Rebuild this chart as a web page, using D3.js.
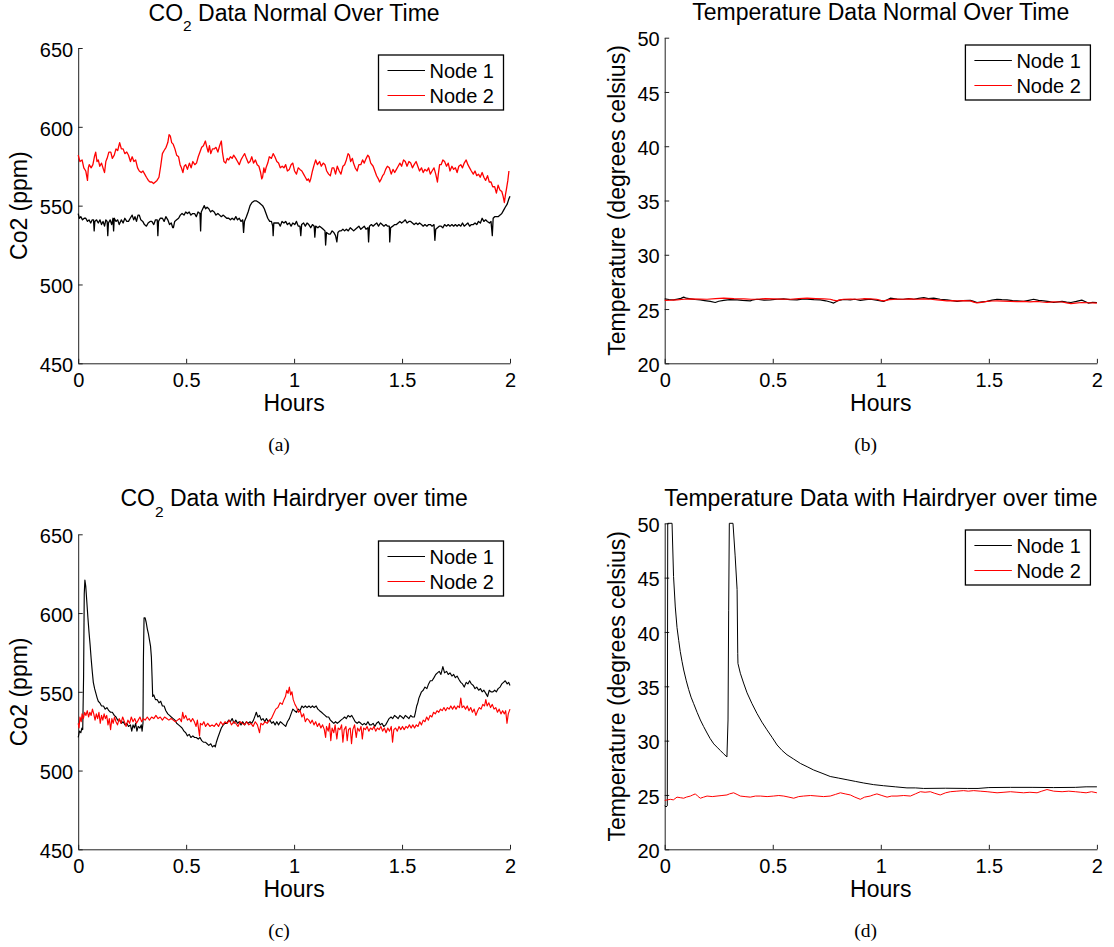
<!DOCTYPE html>
<html>
<head>
<meta charset="utf-8">
<script src="https://cdn.jsdelivr.net/npm/d3@7/dist/d3.min.js"></script>
<style>
  html, body { margin: 0; padding: 0; background: #fff; }
  svg { display: block; }
  text { font-family: "Liberation Sans", Arial, Helvetica, sans-serif; fill: #000; white-space: pre; }
  .cap { font-family: "Liberation Serif", "Times New Roman", serif; }
</style>
</head>
<body>
<svg id="chart" width="1114" height="947"></svg>
<script>
// ---------------- DATA ----------------
const hoursTicks = [0, 0.5, 1, 1.5, 2];
const co2Ticks = [450, 500, 550, 600, 650];
const tempTicks = [20, 25, 30, 35, 40, 45, 50];
const seriesNames = ["Node 1", "Node 2"];

// (a) CO2 normal, [hours, ppm]
const co2NormalNode1 = [[0,545],[0.005,542],[0.012,543],[0.02,541],[0.028,542],[0.035,542],[0.043,540],[0.05,541],[0.058,539],[0.065,541],[0.071,541],[0.074,534],[0.077,540],[0.085,541],[0.093,539],[0.101,541],[0.108,538],[0.115,540],[0.122,537],[0.128,541],[0.134,540],[0.137,531],[0.14,539],[0.148,541],[0.155,538],[0.161,542],[0.164,534],[0.167,542],[0.175,540],[0.183,541],[0.19,538],[0.2,541],[0.208,539],[0.216,542],[0.225,540],[0.233,540],[0.241,542],[0.25,544],[0.257,541],[0.263,543],[0.27,540],[0.277,544],[0.283,544],[0.29,541],[0.299,540],[0.307,538],[0.316,537],[0.324,539],[0.333,540],[0.341,540],[0.35,538],[0.358,541],[0.366,541],[0.369,531],[0.372,540],[0.38,542],[0.39,542],[0.398,540],[0.406,543],[0.415,541],[0.423,538],[0.431,539],[0.438,536],[0.441,536],[0.447,540],[0.456,541],[0.465,542],[0.473,544],[0.481,545],[0.49,544],[0.498,546],[0.506,545],[0.514,546],[0.522,544],[0.53,545],[0.539,545],[0.547,543],[0.555,546],[0.564,545],[0.567,534],[0.57,546],[0.577,548],[0.584,550],[0.59,548],[0.597,549],[0.605,548],[0.613,546],[0.621,547],[0.63,546],[0.638,544],[0.647,545],[0.655,544],[0.663,543],[0.672,544],[0.68,543],[0.688,542],[0.697,542],[0.705,541],[0.713,542],[0.722,541],[0.73,543],[0.738,541],[0.746,542],[0.754,540],[0.762,541],[0.766,533],[0.77,540],[0.779,543],[0.787,546],[0.796,550],[0.805,552],[0.815,553],[0.826,553],[0.837,552],[0.845,551],[0.854,550],[0.862,548],[0.87,545],[0.878,542],[0.887,540],[0.895,540],[0.901,537],[0.903,531],[0.906,539],[0.915,539],[0.928,539],[0.936,537],[0.944,540],[0.953,539],[0.961,540],[0.969,538],[0.978,539],[0.986,537],[0.994,539],[1.003,538],[1.011,540],[1.019,537],[1.027,537],[1.031,531],[1.035,538],[1.044,539],[1.052,537],[1.06,539],[1.068,538],[1.077,536],[1.085,538],[1.093,537],[1.096,530],[1.1,537],[1.11,536],[1.118,537],[1.127,536],[1.135,535],[1.143,534],[1.146,525],[1.15,533],[1.16,532],[1.168,532],[1.176,534],[1.184,533],[1.192,531],[1.198,527],[1.203,533],[1.21,534],[1.218,534],[1.226,535],[1.234,534],[1.242,535],[1.251,534],[1.26,536],[1.268,535],[1.276,534],[1.284,535],[1.292,536],[1.3,537],[1.309,535],[1.317,536],[1.325,537],[1.333,535],[1.342,536],[1.345,527],[1.349,537],[1.358,538],[1.366,537],[1.374,538],[1.383,539],[1.391,537],[1.4,539],[1.408,538],[1.416,537],[1.425,538],[1.433,537],[1.441,537],[1.443,527],[1.447,536],[1.457,537],[1.466,538],[1.474,538],[1.482,539],[1.49,540],[1.498,539],[1.507,540],[1.515,541],[1.523,539],[1.532,540],[1.54,540],[1.548,539],[1.556,538],[1.565,539],[1.573,538],[1.581,539],[1.59,538],[1.598,537],[1.606,538],[1.615,537],[1.623,538],[1.631,538],[1.639,537],[1.648,538],[1.652,528],[1.656,535],[1.664,536],[1.672,537],[1.681,537],[1.689,536],[1.697,538],[1.706,537],[1.714,538],[1.722,537],[1.731,538],[1.739,537],[1.747,538],[1.755,537],[1.763,538],[1.772,537],[1.78,539],[1.788,537],[1.797,538],[1.805,539],[1.813,537],[1.821,538],[1.83,538],[1.838,539],[1.846,538],[1.854,540],[1.863,539],[1.871,542],[1.879,540],[1.887,541],[1.895,540],[1.905,539],[1.912,540],[1.918,531],[1.922,542],[1.929,543],[1.937,543],[1.945,543],[1.954,544],[1.962,545],[1.97,547],[1.978,549],[1.987,551],[1.994,554],[2,556]];
const co2NormalNode2 = [[0,582],[0.008,578],[0.018,579],[0.026,574],[0.035,572],[0.043,566],[0.047,574],[0.051,576],[0.06,574],[0.068,576],[0.075,581],[0.081,584],[0.087,578],[0.093,579],[0.1,575],[0.108,577],[0.117,573],[0.122,571],[0.128,578],[0.134,580],[0.142,584],[0.151,584],[0.158,580],[0.167,582],[0.175,586],[0.183,585],[0.192,590],[0.2,586],[0.208,586],[0.216,583],[0.225,584],[0.233,582],[0.242,578],[0.25,581],[0.258,578],[0.266,579],[0.275,574],[0.283,572],[0.292,571],[0.3,572],[0.308,570],[0.316,568],[0.325,566],[0.333,565],[0.341,565],[0.349,564],[0.357,565],[0.365,566],[0.374,568],[0.382,575],[0.39,583],[0.398,585],[0.407,587],[0.415,590],[0.421,595],[0.427,594],[0.433,590],[0.44,589],[0.448,586],[0.456,582],[0.465,581],[0.472,576],[0.478,574],[0.485,571],[0.491,575],[0.498,576],[0.506,573],[0.515,577],[0.523,574],[0.531,578],[0.54,576],[0.548,577],[0.556,581],[0.564,584],[0.572,587],[0.58,588],[0.589,591],[0.596,587],[0.602,584],[0.608,588],[0.614,583],[0.622,586],[0.63,586],[0.638,587],[0.647,584],[0.655,588],[0.663,591],[0.668,584],[0.675,578],[0.683,577],[0.69,580],[0.697,579],[0.705,581],[0.713,580],[0.72,582],[0.73,580],[0.738,578],[0.746,576],[0.754,579],[0.762,581],[0.771,583],[0.779,580],[0.788,577],[0.796,578],[0.804,581],[0.812,577],[0.821,579],[0.829,576],[0.837,575],[0.845,571],[0.85,567],[0.854,568],[0.86,574],[0.865,571],[0.87,574],[0.878,577],[0.885,581],[0.895,580],[0.903,583],[0.911,581],[0.92,578],[0.928,577],[0.936,574],[0.945,575],[0.953,574],[0.961,576],[0.969,572],[0.978,573],[0.986,576],[0.994,577],[1.002,572],[1.011,570],[1.019,574],[1.027,573],[1.036,572],[1.044,570],[1.052,568],[1.06,566],[1.066,567],[1.072,565],[1.077,567],[1.085,572],[1.093,576],[1.1,579],[1.108,576],[1.118,578],[1.126,575],[1.135,577],[1.143,576],[1.151,572],[1.16,570],[1.168,569],[1.176,574],[1.184,574],[1.192,570],[1.2,575],[1.209,572],[1.217,570],[1.226,575],[1.234,576],[1.242,579],[1.25,583],[1.256,582],[1.262,578],[1.27,580],[1.275,577],[1.283,574],[1.292,572],[1.3,576],[1.309,576],[1.317,579],[1.325,577],[1.334,580],[1.341,582],[1.347,581],[1.355,577],[1.366,575],[1.374,572],[1.382,569],[1.39,567],[1.396,565],[1.404,567],[1.41,569],[1.416,570],[1.424,573],[1.432,575],[1.441,574],[1.45,570],[1.458,573],[1.466,571],[1.474,573],[1.482,575],[1.49,577],[1.498,575],[1.507,579],[1.515,578],[1.523,575],[1.532,578],[1.54,577],[1.548,574],[1.556,576],[1.565,578],[1.573,575],[1.581,572],[1.59,574],[1.598,571],[1.606,573],[1.615,572],[1.623,574],[1.631,570],[1.639,572],[1.648,574],[1.656,570],[1.664,565],[1.668,570],[1.674,576],[1.681,576],[1.689,579],[1.697,578],[1.706,575],[1.714,577],[1.722,572],[1.731,575],[1.739,573],[1.747,574],[1.755,571],[1.763,575],[1.772,576],[1.78,574],[1.788,577],[1.797,579],[1.805,576],[1.813,574],[1.821,572],[1.83,570],[1.838,572],[1.846,569],[1.854,570],[1.862,568],[1.871,571],[1.879,568],[1.887,566],[1.896,569],[1.904,565],[1.912,565],[1.92,562],[1.929,562],[1.937,558],[1.945,563],[1.953,560],[1.962,559],[1.968,556],[1.974,552],[1.979,557],[1.983,560],[1.99,566],[1.995,572]];

// (b) Temperature normal, [hours, degC]
const tempNormalNode1 = [[0,25.94],[0.02,25.88],[0.041,25.85],[0.06,25.92],[0.075,25.98],[0.088,26.1],[0.1,26.0],[0.119,25.94],[0.14,25.88],[0.165,25.85],[0.185,25.78],[0.211,25.7],[0.234,25.6],[0.25,25.72],[0.273,25.8],[0.3,25.86],[0.335,25.85],[0.36,25.8],[0.396,25.75],[0.41,25.85],[0.427,25.9],[0.46,25.82],[0.489,25.85],[0.52,25.9],[0.55,25.94],[0.58,25.86],[0.612,25.85],[0.635,25.92],[0.659,25.9],[0.69,25.86],[0.72,25.85],[0.745,25.76],[0.766,25.65],[0.782,25.55],[0.795,25.7],[0.805,25.8],[0.83,25.88],[0.859,25.85],[0.88,25.9],[0.905,25.8],[0.93,25.86],[0.952,25.9],[0.98,25.82],[1.013,25.7],[1.03,25.85],[1.044,26.0],[1.075,25.92],[1.106,25.9],[1.13,25.96],[1.152,25.9],[1.175,25.98],[1.199,26.05],[1.22,25.96],[1.245,26.0],[1.275,25.9],[1.306,25.85],[1.33,25.78],[1.353,25.7],[1.38,25.78],[1.414,25.8],[1.43,25.7],[1.445,25.6],[1.47,25.66],[1.491,25.7],[1.515,25.82],[1.538,25.9],[1.56,25.86],[1.584,25.85],[1.61,25.78],[1.63,25.75],[1.661,25.7],[1.685,25.8],[1.707,25.9],[1.73,25.8],[1.754,25.75],[1.78,25.68],[1.8,25.6],[1.82,25.66],[1.839,25.7],[1.86,25.64],[1.88,25.6],[1.905,25.7],[1.93,25.82],[1.945,25.7],[1.96,25.55],[1.98,25.62],[2,25.6]];
const tempNormalNode2 = [[0,25.8],[0.03,25.82],[0.057,25.85],[0.09,25.9],[0.119,25.94],[0.16,25.92],[0.196,25.9],[0.235,25.96],[0.273,26.0],[0.32,25.95],[0.366,25.94],[0.4,25.9],[0.427,25.9],[0.465,25.96],[0.504,25.94],[0.54,25.92],[0.582,25.9],[0.62,25.95],[0.659,26.0],[0.7,25.96],[0.736,25.94],[0.766,25.9],[0.78,25.82],[0.797,25.75],[0.81,25.84],[0.828,25.9],[0.86,25.92],[0.89,25.9],[0.92,25.95],[0.952,25.94],[0.98,25.9],[1.0,25.8],[1.013,25.75],[1.04,25.86],[1.075,25.92],[1.1,25.9],[1.136,25.94],[1.17,25.9],[1.199,25.94],[1.23,25.9],[1.26,25.85],[1.285,25.8],[1.306,25.75],[1.33,25.78],[1.353,25.75],[1.385,25.78],[1.414,25.75],[1.43,25.64],[1.445,25.56],[1.465,25.62],[1.491,25.7],[1.515,25.74],[1.538,25.75],[1.57,25.72],[1.6,25.7],[1.63,25.68],[1.661,25.7],[1.69,25.66],[1.723,25.7],[1.745,25.65],[1.769,25.62],[1.8,25.66],[1.839,25.65],[1.86,25.56],[1.88,25.5],[1.9,25.54],[1.93,25.6],[1.96,25.58],[2,25.55]];

// (c) CO2 with hairdryer, [hours, ppm]
const co2DryerNode1 = [[0,521],[0.006,525],[0.012,524],[0.017,527],[0.021,526],[0.025,560],[0.028,612],[0.031,621],[0.035,617],[0.04,607],[0.045,597],[0.05,588],[0.055,580],[0.06,571],[0.065,563],[0.07,556],[0.076,552],[0.082,549],[0.088,546],[0.093,544],[0.1,543],[0.108,541],[0.117,541],[0.125,539],[0.133,540],[0.142,538],[0.15,537],[0.158,537],[0.167,535],[0.175,534],[0.183,532],[0.192,532],[0.2,530],[0.208,531],[0.217,529],[0.225,530],[0.233,528],[0.242,529],[0.248,525],[0.254,529],[0.26,527],[0.266,530],[0.272,525],[0.278,528],[0.286,527],[0.292,529],[0.296,525],[0.3,530],[0.302,570],[0.305,597],[0.31,597],[0.315,594],[0.32,590],[0.325,587],[0.33,583],[0.335,579],[0.339,572],[0.342,560],[0.345,547],[0.35,548],[0.358,545],[0.366,545],[0.374,543],[0.382,544],[0.39,541],[0.398,541],[0.406,538],[0.415,536],[0.423,535],[0.431,534],[0.44,533],[0.448,532],[0.456,530],[0.465,529],[0.473,528],[0.481,527],[0.49,525],[0.498,524],[0.506,522],[0.514,523],[0.522,521],[0.531,522],[0.539,521],[0.547,521],[0.556,520],[0.564,521],[0.572,519],[0.58,518],[0.589,518],[0.597,517],[0.605,516],[0.614,517],[0.622,515],[0.63,516],[0.635,515],[0.64,518],[0.647,521],[0.655,524],[0.663,527],[0.672,529],[0.68,530],[0.688,530],[0.697,532],[0.705,531],[0.713,533],[0.722,530],[0.73,532],[0.738,530],[0.746,531],[0.754,529],[0.762,531],[0.771,529],[0.779,531],[0.787,530],[0.796,531],[0.804,530],[0.812,532],[0.82,535],[0.825,537],[0.832,534],[0.84,535],[0.848,532],[0.856,533],[0.864,531],[0.872,533],[0.88,531],[0.888,532],[0.896,530],[0.904,531],[0.912,529],[0.92,531],[0.928,529],[0.936,531],[0.945,530],[0.953,529],[0.961,528],[0.969,531],[0.978,533],[0.986,536],[0.994,539],[1.002,538],[1.011,537],[1.019,539],[1.027,538],[1.036,541],[1.044,540],[1.052,541],[1.06,540],[1.069,541],[1.077,540],[1.085,541],[1.093,540],[1.102,541],[1.11,539],[1.118,538],[1.127,537],[1.135,536],[1.143,535],[1.151,534],[1.16,534],[1.168,532],[1.176,531],[1.184,530],[1.192,531],[1.2,530],[1.209,531],[1.217,532],[1.226,533],[1.234,534],[1.242,533],[1.25,535],[1.259,534],[1.267,535],[1.275,533],[1.283,531],[1.292,530],[1.3,531],[1.309,530],[1.317,529],[1.325,530],[1.333,529],[1.342,531],[1.35,529],[1.358,529],[1.366,530],[1.374,528],[1.382,530],[1.391,531],[1.399,529],[1.407,530],[1.415,528],[1.424,529],[1.432,531],[1.44,533],[1.449,534],[1.457,533],[1.465,535],[1.474,534],[1.482,533],[1.49,535],[1.499,534],[1.507,533],[1.515,535],[1.524,534],[1.532,533],[1.54,535],[1.548,534],[1.557,534],[1.562,537],[1.568,541],[1.573,543],[1.578,546],[1.584,548],[1.59,550],[1.598,551],[1.606,553],[1.615,552],[1.623,555],[1.631,557],[1.639,557],[1.648,559],[1.656,561],[1.664,562],[1.672,563],[1.68,561],[1.689,566],[1.697,562],[1.706,563],[1.714,561],[1.722,562],[1.731,560],[1.739,561],[1.747,559],[1.755,560],[1.763,558],[1.772,556],[1.78,555],[1.788,553],[1.797,556],[1.805,555],[1.813,557],[1.821,555],[1.83,554],[1.838,552],[1.846,553],[1.855,551],[1.863,552],[1.871,550],[1.879,551],[1.888,549],[1.896,547],[1.904,551],[1.912,550],[1.921,550],[1.929,551],[1.937,550],[1.945,552],[1.954,553],[1.962,555],[1.97,556],[1.978,557],[1.987,555],[1.994,556],[2,554]];
const co2DryerNode2 = [[0,530],[0.004,527],[0.008,534],[0.014,531],[0.018,536],[0.024,533],[0.03,537],[0.036,535],[0.042,538],[0.048,534],[0.054,537],[0.06,535],[0.066,539],[0.072,536],[0.078,532],[0.084,536],[0.09,533],[0.096,537],[0.102,530],[0.108,535],[0.114,532],[0.12,536],[0.126,533],[0.132,535],[0.138,529],[0.144,533],[0.15,526],[0.156,533],[0.162,530],[0.168,534],[0.175,531],[0.182,529],[0.19,533],[0.198,530],[0.206,534],[0.214,531],[0.222,528],[0.23,532],[0.238,530],[0.246,534],[0.254,531],[0.262,533],[0.27,530],[0.278,532],[0.286,534],[0.294,531],[0.302,533],[0.31,532],[0.32,534],[0.33,532],[0.34,534],[0.35,533],[0.36,535],[0.37,533],[0.38,534],[0.39,532],[0.4,534],[0.41,533],[0.42,532],[0.43,533],[0.44,532],[0.45,531],[0.46,532],[0.47,533],[0.478,531],[0.484,537],[0.49,533],[0.498,535],[0.506,532],[0.514,533],[0.522,531],[0.53,533],[0.538,531],[0.546,528],[0.552,532],[0.558,526],[0.562,522],[0.566,530],[0.574,529],[0.582,531],[0.59,528],[0.6,530],[0.61,528],[0.62,529],[0.63,528],[0.64,530],[0.65,528],[0.66,531],[0.67,529],[0.68,531],[0.69,530],[0.7,532],[0.71,529],[0.72,531],[0.73,530],[0.74,528],[0.75,531],[0.76,530],[0.77,529],[0.78,531],[0.79,529],[0.8,530],[0.81,528],[0.82,531],[0.83,529],[0.84,524],[0.846,530],[0.855,529],[0.865,531],[0.875,530],[0.885,532],[0.895,533],[0.905,536],[0.915,539],[0.925,540],[0.935,543],[0.945,542],[0.953,545],[0.96,547],[0.966,551],[0.972,549],[0.978,553],[0.984,548],[0.99,550],[0.996,545],[1.004,542],[1.012,540],[1.02,537],[1.028,538],[1.036,534],[1.044,536],[1.052,531],[1.06,533],[1.068,532],[1.076,530],[1.084,532],[1.092,529],[1.1,531],[1.108,528],[1.116,530],[1.124,527],[1.132,529],[1.14,526],[1.146,521],[1.15,528],[1.158,525],[1.164,530],[1.17,519],[1.176,527],[1.184,524],[1.19,529],[1.198,520],[1.204,527],[1.212,526],[1.22,529],[1.226,518],[1.232,526],[1.24,528],[1.246,519],[1.252,526],[1.26,527],[1.266,517],[1.272,526],[1.28,529],[1.288,521],[1.294,527],[1.302,525],[1.31,528],[1.316,520],[1.322,527],[1.33,526],[1.338,528],[1.346,525],[1.354,527],[1.362,526],[1.37,528],[1.378,525],[1.386,527],[1.394,526],[1.402,528],[1.41,525],[1.418,527],[1.426,524],[1.434,527],[1.442,525],[1.45,528],[1.456,518],[1.462,526],[1.47,527],[1.478,525],[1.486,528],[1.494,526],[1.502,528],[1.51,526],[1.518,528],[1.526,527],[1.534,529],[1.542,527],[1.55,529],[1.558,527],[1.566,529],[1.574,528],[1.582,531],[1.59,529],[1.598,532],[1.606,531],[1.614,534],[1.622,532],[1.63,535],[1.638,534],[1.646,537],[1.654,536],[1.662,538],[1.67,537],[1.678,539],[1.686,538],[1.694,540],[1.702,538],[1.71,540],[1.718,539],[1.726,541],[1.734,539],[1.742,541],[1.75,539],[1.758,541],[1.766,540],[1.772,546],[1.778,540],[1.786,541],[1.794,539],[1.802,541],[1.81,538],[1.818,540],[1.826,537],[1.834,539],[1.842,535],[1.85,538],[1.858,540],[1.866,539],[1.874,542],[1.882,541],[1.888,545],[1.894,541],[1.902,543],[1.91,540],[1.918,542],[1.926,539],[1.934,540],[1.942,537],[1.95,539],[1.958,536],[1.966,538],[1.974,536],[1.98,538],[1.986,530],[1.992,536],[2,539]];

// (d) Temperature with hairdryer, [hours, degC]
const tempDryerNode1 = [[0,24.0],[0.006,23.9],[0.012,24.0],[0.014,50],[0.02,50],[0.034,50],[0.041,45.1],[0.049,42.3],[0.057,40.4],[0.065,39.2],[0.072,38.2],[0.08,37.3],[0.088,36.5],[0.1,35.5],[0.111,34.7],[0.122,34.0],[0.134,33.4],[0.15,32.6],[0.165,31.9],[0.18,31.3],[0.196,30.7],[0.21,30.2],[0.227,29.7],[0.242,29.4],[0.257,29.1],[0.272,28.8],[0.288,28.5],[0.293,31.9],[0.296,42],[0.299,50],[0.316,50],[0.326,47],[0.335,43.9],[0.338,38],[0.339,37.1],[0.35,36.2],[0.365,35.3],[0.381,34.4],[0.404,33.4],[0.427,32.5],[0.45,31.7],[0.473,31.0],[0.497,30.3],[0.52,29.6],[0.543,29.1],[0.566,28.7],[0.597,28.3],[0.628,27.9],[0.659,27.6],[0.689,27.3],[0.728,27.0],[0.766,26.7],[0.805,26.55],[0.844,26.4],[0.882,26.25],[0.921,26.1],[0.967,25.95],[1.013,25.85],[1.067,25.75],[1.121,25.65],[1.16,25.65],[1.198,25.6],[1.3,25.62],[1.4,25.6],[1.45,25.6],[1.5,25.68],[1.6,25.7],[1.7,25.7],[1.8,25.68],[1.9,25.7],[1.95,25.75],[2.0,25.75]];
const tempDryerNode2 = [[0,24.5],[0.013,24.55],[0.026,24.6],[0.04,24.55],[0.057,24.8],[0.072,24.75],[0.088,24.7],[0.1,24.8],[0.119,24.9],[0.13,25.0],[0.142,25.1],[0.152,24.9],[0.165,24.7],[0.18,24.8],[0.196,24.9],[0.22,24.85],[0.242,24.9],[0.265,24.95],[0.288,25.0],[0.3,25.1],[0.319,25.2],[0.335,25.05],[0.35,24.9],[0.372,24.85],[0.396,24.8],[0.42,24.9],[0.443,24.9],[0.474,24.85],[0.504,24.9],[0.528,24.95],[0.551,24.9],[0.575,24.8],[0.597,24.7],[0.62,24.85],[0.643,24.9],[0.675,24.95],[0.705,24.9],[0.735,24.85],[0.766,24.9],[0.79,25.05],[0.813,25.2],[0.835,25.1],[0.859,25.0],[0.88,24.8],[0.905,24.6],[0.925,24.8],[0.951,24.9],[0.965,25.0],[0.982,25.1],[1.005,24.95],[1.029,24.8],[1.05,24.9],[1.075,24.9],[1.106,24.95],[1.137,24.9],[1.16,25.1],[1.183,25.3],[1.205,25.25],[1.229,25.3],[1.25,25.15],[1.275,25.0],[1.3,25.2],[1.322,25.3],[1.352,25.35],[1.383,25.4],[1.405,25.35],[1.43,25.4],[1.46,25.35],[1.492,25.3],[1.515,25.25],[1.538,25.2],[1.57,25.25],[1.6,25.3],[1.63,25.25],[1.661,25.2],[1.69,25.25],[1.723,25.2],[1.745,25.35],[1.769,25.5],[1.8,25.35],[1.839,25.3],[1.87,25.35],[1.9,25.3],[1.925,25.25],[1.95,25.2],[1.975,25.3],[2,25.2]];

// ---------------- LAYOUT ----------------
const colors = ["#000000", "#ff0000"];
const panels = [
  { series: [co2NormalNode1, co2NormalNode2], yDomain: [450, 650], yTicks: co2Ticks, lineW: 1.3,
    left: 78.2, right: 510, top: 48, bottom: 363.3,
    title: ["CO", "2", " Data Normal Over Time"], titleY: 20.7,
    ylabel: "Co2 (ppm)", ylabelX: 26.5, caption: "(a)", capX: 279, capY: 450.5 },
  { series: [tempNormalNode1, tempNormalNode2], yDomain: [20, 50], yTicks: tempTicks, lineW: 1.2,
    left: 664.7, right: 1096.9, top: 37.7, bottom: 363.3,
    title: ["Temperature Data Normal Over Time"], titleY: 19.5,
    ylabel: "Temperature (degrees celsius)", ylabelX: 625, caption: "(b)", capX: 865.6, capY: 450.5 },
  { series: [co2DryerNode1, co2DryerNode2], yDomain: [450, 650], yTicks: co2Ticks, lineW: 1.15,
    left: 78.2, right: 510, top: 534.3, bottom: 849.3,
    title: ["CO", "2", " Data with Hairdryer over time"], titleY: 506,
    ylabel: "Co2 (ppm)", ylabelX: 26.5, caption: "(c)", capX: 279, capY: 936.5 },
  { series: [tempDryerNode1, tempDryerNode2], yDomain: [20, 50], yTicks: tempTicks, lineW: 1,
    left: 664.7, right: 1096.9, top: 523.3, bottom: 849.3,
    title: ["Temperature Data with Hairdryer over time"], titleY: 506,
    ylabel: "Temperature (degrees celsius)", ylabelX: 625, caption: "(d)", capX: 865.6, capY: 936.5 }
];

const svg = d3.select("#chart");
svg.append("rect").attr("width", 1114).attr("height", 947).attr("fill", "#fff");

const TICK_FS = 20, LABEL_FS = 23, LEG_FS = 20;

panels.forEach(p => {
  const x = d3.scaleLinear().domain([0, 2]).range([p.left, p.right]);
  const y = d3.scaleLinear().domain(p.yDomain).range([p.bottom, p.top]);
  const g = svg.append("g");

  // axes
  const xAxis = d3.axisBottom(x).tickValues(hoursTicks).tickFormat(d3.format("")).tickSizeInner(-4.5).tickSizeOuter(0).tickPadding(10);
  const yAxis = d3.axisLeft(y).tickValues(p.yTicks).tickFormat(d3.format("")).tickSizeInner(-4.5).tickSizeOuter(0).tickPadding(5);

  const gx = g.append("g").attr("transform", `translate(0,${p.bottom})`).call(xAxis);
  const gy = g.append("g").attr("transform", `translate(${p.left},0)`).call(yAxis);
  [gx, gy].forEach(a => {
    a.selectAll("path.domain").attr("stroke", "#222").attr("stroke-width", 1);
    a.selectAll(".tick line").attr("stroke", "#222").attr("stroke-width", 1);
    a.selectAll(".tick text").attr("fill", "#000").style("font-size", TICK_FS + "px")
      .style("font-family", '"Liberation Sans", Arial, sans-serif');
  });
  gy.selectAll(".tick text").attr("dy", "0.41em");

  // lines
  const line = d3.line().x(d => x(d[0])).y(d => y(d[1]));
  p.series.forEach((s, i) => {
    g.append("path").datum(s).attr("d", line)
      .attr("fill", "none").attr("stroke", colors[i]).attr("stroke-width", p.lineW)
      .attr("stroke-linejoin", "round");
  });

  // title
  const cx = (p.left + p.right) / 2;
  const t = g.append("text").attr("x", cx).attr("y", p.titleY)
    .attr("text-anchor", "middle").style("font-size", LABEL_FS + "px");
  if (p.title.length === 3) {
    t.append("tspan").text(p.title[0]);
    t.append("tspan").attr("dy", 10.5).style("font-size", "15.5px").text(p.title[1]);
    t.append("tspan").attr("dy", -10.5).text(p.title[2]);
  } else {
    t.text(p.title[0]);
  }

  // x label
  g.append("text").attr("x", cx).attr("y", p.bottom + 47.5)
    .attr("text-anchor", "middle").style("font-size", LABEL_FS + "px").text("Hours");

  // y label
  const cy = (p.top + p.bottom) / 2;
  g.append("text").attr("transform", `translate(${p.ylabelX},${cy}) rotate(-90)`)
    .attr("text-anchor", "middle").style("font-size", LABEL_FS + "px").text(p.ylabel);

  // legend
  const lw = 125, lh = 55;
  const lx = p.right - 6.5 - lw, ly = Math.round(p.top + 7);
  const lg = g.append("g");
  lg.append("rect").attr("x", lx).attr("y", ly).attr("width", lw).attr("height", lh)
    .attr("fill", "#fff").attr("stroke", "#000").attr("stroke-width", 1.3);
  seriesNames.forEach((name, i) => {
    const ry = ly + 15.5 + i * 25;
    lg.append("line").attr("x1", lx + 9).attr("x2", lx + 46.5).attr("y1", ry).attr("y2", ry)
      .attr("stroke", colors[i]).attr("stroke-width", 1.2);
    lg.append("text").attr("x", lx + 51).attr("y", ry + 7)
      .style("font-size", LEG_FS + "px").text(name);
  });

  // caption
  g.append("text").attr("class", "cap").attr("x", p.capX).attr("y", p.capY)
    .attr("text-anchor", "middle").style("font-size", "19.5px").text(p.caption);
});
</script>
</body>
</html>
